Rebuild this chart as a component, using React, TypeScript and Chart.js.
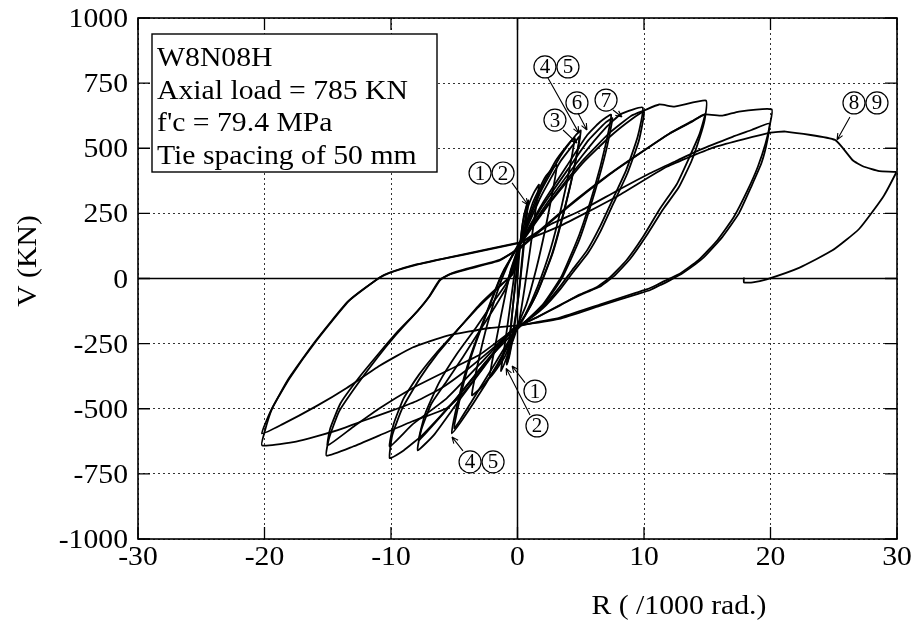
import React, { useEffect, useRef } from "react";
import { Chart, registerables } from "chart.js";

Chart.register(...registerables);

type Pt = [number, number];

// ---- axes & text ----
const xTickValues = [-30, -20, -10, 0, 10, 20, 30];
const yTickValues = [-1000, -750, -500, -250, 0, 250, 500, 750, 1000];
const xTitle = "R ( /1000 rad.)";
const yTitle = "V (KN)";
const infoLines = ["W8N08H", "Axial load = 785 KN", "f'c = 79.4 MPa", "Tie spacing of 50 mm"];

// ---- hysteresis loops: [R (/1000 rad), V (kN)] ----
const cycle1: Pt[] = [[0, 0], [0.15, 100], [0.4, 210], [0.8, 290], [0.62, 200], [0.35, 70], [0.1, -60], [-0.3, -190], [-0.6, -280], [-0.8, -320], [-0.6, -230], [-0.35, -100], [-0.05, 40], [0.2, 130]];
const cycle2: Pt[] = [[0.2, 130], [0.5, 240], [0.85, 300], [0.65, 200], [0.35, 50], [0.05, -80], [-0.35, -220], [-0.65, -300], [-0.85, -330], [-0.65, -240], [-0.35, -100], [0, 50], [0.25, 140]];
const cycle3: Pt[] = [[0.25, 140], [0.8, 270], [1.3, 330], [1.7, 360], [1.45, 270], [1.05, 130], [0.55, -40], [0.1, -170], [-0.6, -270], [-1.3, -355], [-1.05, -270], [-0.65, -130], [-0.2, 30], [0.25, 140]];
const cycle4: Pt[] = [[0.25, 140], [1.2, 290], [2.2, 390], [3.1, 436], [2.8, 340], [2.2, 190], [1.5, 40], [0.7, -100], [0, -180], [-1.0, -300], [-2.2, -382], [-1.85, -280], [-1.25, -130], [-0.55, 30], [0.25, 145]];
const cycle5: Pt[] = [[0.25, 145], [1.5, 310], [3.0, 450], [4.0, 515], [4.5, 540], [4.15, 430], [3.5, 280], [2.6, 110], [1.6, -30], [0.6, -140], [0, -185], [-1.4, -320], [-2.7, -410], [-3.6, -448], [-3.15, -330], [-2.35, -170], [-1.3, -10], [-0.3, 100], [0.25, 145]];
const cycle6: Pt[] = [[0.25, 145], [1.8, 330], [3.4, 470], [4.6, 550], [5.0, 568], [4.55, 440], [3.8, 280], [2.8, 100], [1.6, -50], [0.5, -150], [0, -185], [-1.6, -330], [-3.5, -480], [-5.2, -595], [-4.65, -460], [-3.8, -310], [-2.6, -150], [-1.3, 10], [0.25, 140]];
const cycle7: Pt[] = [[0.25, 140], [1.8, 310], [3.4, 450], [4.5, 520], [4.9, 545], [4.45, 420], [3.7, 265], [2.7, 90], [1.5, -60], [0.4, -160], [0, -185], [-1.7, -320], [-3.6, -470], [-5.0, -575], [-4.45, -440], [-3.6, -290], [-2.4, -130], [-1.1, 30], [0.25, 140]];
const cycle8: Pt[] = [[0.25, 140], [2, 290], [4, 440], [5.5, 550], [6.5, 600], [7.4, 629], [6.95, 510], [6.1, 350], [4.9, 170], [3.5, 10], [2.0, -100], [0.5, -170], [-0.5, -200], [-2.5, -330], [-4.8, -480], [-6.6, -600], [-7.9, -660], [-7.6, -580], [-6.8, -480], [-5.6, -394], [-4.3, -300], [-3.0, -201], [-1.8, -110], [-0.9, -35], [-0.1, 81], [0.25, 140]];
const cycle9: Pt[] = [[0.25, 140], [2, 280], [4, 420], [5.6, 530], [7.0, 600], [7.5, 615], [7.0, 490], [6.1, 330], [4.9, 150], [3.5, 0], [2.0, -105], [0.3, -180], [-2.5, -320], [-5, -470], [-7, -580], [-7.8, -620], [-7.3, -520], [-6.2, -400], [-4.8, -290], [-3.3, -190], [-1.9, -90], [-0.9, -20], [-0.1, 90], [0.25, 140]];
const cycle10: Pt[] = [[0.25, 140], [2.5, 300], [5.1, 470], [7.0, 580], [8.2, 632], [9.9, 656], [9.5, 544], [8.6, 417], [7.5, 301], [6.5, 197], [5.5, 108], [4.3, 31], [3.3, -35], [2.0, -110], [0.5, -170], [-0.5, -200], [-2.5, -320], [-5.0, -470], [-7.5, -600], [-9.0, -660], [-10.1, -690], [-9.9, -602], [-9.1, -498], [-7.7, -382], [-6.4, -293], [-4.8, -201], [-3.0, -100], [-1.6, -35], [-0.4, 15], [0.2, 130]];
const cycle11: Pt[] = [[0.2, 130], [2.5, 286], [5.1, 440], [7.3, 544], [9.1, 614], [10.0, 640], [9.6, 530], [8.7, 405], [7.6, 290], [6.6, 185], [5.6, 100], [4.4, 25], [3.4, -40], [2.0, -115], [0.4, -175], [-0.5, -200], [-3.0, -330], [-5.6, -460], [-8.3, -560], [-10.1, -645], [-9.8, -560], [-9.0, -460], [-7.8, -370], [-6.4, -285], [-4.8, -200], [-3.0, -105], [-1.5, -35], [-0.4, 20], [0.2, 135]];
const cycle12: Pt[] = [[0.2, 135], [2.5, 290], [5.1, 450], [7.3, 560], [9.0, 625], [10.0, 645], [11.2, 668], [12.4, 660], [14.9, 683], [14.8, 610], [14.4, 540], [13.75, 450], [12.75, 350], [11.5, 265], [10.2, 165], [8.9, 75], [7.6, 8], [6.5, -32], [5.2, -58], [3.5, -98], [1.5, -150], [0, -185], [-1.5, -260], [-3.0, -360], [-4.3, -440], [-5.6, -498], [-8.3, -548], [-10.9, -602], [-13.0, -645], [-15.1, -680], [-14.9, -614], [-14.1, -510], [-12.7, -409], [-11.1, -305], [-9.6, -216], [-8.0, -130], [-7.0, -70], [-6.2, -8], [-5.4, 15], [-4.0, 35], [-1.4, 69], [0.2, 120]];
const cycle13: Pt[] = [[0.2, 120], [3.9, 274], [7.3, 402], [9.6, 479], [12.0, 556], [13.8, 602], [14.8, 630], [14.4, 556], [13.6, 467], [12.6, 363], [11.2, 263], [9.9, 158], [8.6, 69], [7.3, 4], [6.2, -35], [4.9, -62], [3.3, -105], [1.5, -150], [0, -185], [-3.0, -293], [-5.6, -355], [-8.3, -421], [-10.9, -498], [-13.0, -570], [-15.0, -640], [-14.8, -575], [-14.0, -480], [-12.6, -385], [-11.0, -290], [-9.5, -205], [-7.9, -125], [-6.9, -65], [-6.1, -5], [-5.3, 18], [-4.0, 38], [-1.4, 72], [0.2, 115]];
const cycle14: Pt[] = [[0.2, 115], [3.9, 270], [7.3, 400], [9.6, 478], [12.0, 556], [13.8, 604], [14.8, 630], [16.2, 625], [17.5, 641], [20.1, 649], [19.95, 590], [19.6, 517], [19.0, 429], [18.2, 340], [17.1, 236], [15.8, 147], [14.3, 70], [12.7, 15], [11.6, -10], [11.0, -25], [10.2, -42], [9.4, -54], [6.5, -100], [3.3, -151], [0, -185], [-2, -270], [-4, -350], [-6, -420], [-8, -471], [-10.1, -510], [-12.3, -548], [-13.8, -575], [-15.9, -606], [-17.5, -626], [-20.2, -641], [-20.0, -590], [-19.4, -500], [-18.1, -385], [-16.0, -242], [-13.4, -88], [-11.0, 0], [-10.2, 20], [-8.0, 52], [-5.4, 80], [-2.8, 106], [0.2, 137]];
const cycle15: Pt[] = [[0.2, 137], [2.5, 205], [5.1, 263], [7.8, 335], [10.4, 402], [12.5, 450], [14.4, 494], [17.0, 544], [18.5, 570], [19.9, 595], [19.75, 530], [19.3, 445], [18.5, 355], [17.5, 250], [16.2, 160], [14.7, 80], [13.1, 22], [12.0, -8], [11.3, -25], [10.5, -44], [9.6, -58], [6.5, -105], [3.3, -155], [0, -180], [-2.2, -190], [-5.6, -220], [-8.3, -265], [-10.9, -335], [-13.5, -420], [-15.9, -490], [-18.6, -560], [-20.2, -595], [-19.4, -498], [-18.0, -382], [-15.9, -239], [-13.3, -85], [-10.9, 4], [-10.1, 23], [-8.0, 54], [-5.4, 81], [-2.8, 108], [0.2, 139]];
const finalRun: Pt[] = [[0.2, 139], [3.3, 200], [7.8, 313], [11.8, 429], [15.7, 506], [20.0, 560], [21.2, 564], [25.1, 532], [26.5, 454], [27.3, 431], [28.6, 412], [29.9, 409], [29.9, 403], [28.9, 313], [27.0, 190], [24.9, 108], [22.3, 42], [19.7, -3], [18.6, -15], [17.9, -15], [17.9, 4]];

const loops: Pt[][] = [cycle1, cycle2, cycle3, cycle4, cycle5, cycle6, cycle7, cycle8, cycle9, cycle10, cycle11, cycle12, cycle13, cycle14, cycle15, finalRun];

// ---- cycle number call-outs (data coordinates) ----
interface Note { nums: string[]; at: Pt; tail: Pt; tip: Pt }
const notes: Note[] = [
  { nums: ["1", "2"], at: [-2.96, 405], tail: [-0.43, 367], tip: [0.83, 282] },
  { nums: ["3"], at: [2.96, 608], tail: [3.6, 570], tip: [4.7, 520] },
  { nums: ["4", "5"], at: [2.17, 812], tail: [2.41, 770], tip: [4.86, 558] },
  { nums: ["6"], at: [4.7, 674], tail: [4.78, 635], tip: [5.49, 570] },
  { nums: ["7"], at: [7.0, 685], tail: [7.55, 647], tip: [8.26, 620] },
  { nums: ["8", "9"], at: [26.6, 674], tail: [26.28, 620], tip: [25.26, 532] },
  { nums: ["1"], at: [1.38, -432], tail: [0.59, -400], tip: [-0.43, -336] },
  { nums: ["2"], at: [1.54, -566], tail: [0.99, -524], tip: [-0.9, -345] },
  { nums: ["4", "5"], at: [-3.75, -704], tail: [-4.31, -662], tip: [-5.18, -608] },
];

const SERIF = '"Liberation Serif", "Times New Roman", Times, serif';
const SX = 1.1;

function stretchedText(ctx: CanvasRenderingContext2D, text: string, x: number, y: number, size: number, align: "left" | "right" | "center") {
  ctx.save();
  ctx.font = `${size}px ${SERIF}`;
  ctx.textAlign = "left";
  const w = ctx.measureText(text).width * SX;
  let left = x;
  if (align === "right") left = x - w;
  else if (align === "center") left = x - w / 2;
  ctx.translate(left, y);
  ctx.scale(SX, 1);
  ctx.fillText(text, 0, 0);
  ctx.restore();
}

const decorPlugin = {
  id: "decor",
  beforeDatasetsDraw(chart: any) {
    const { ctx, chartArea: a, scales } = chart;
    const zx = scales.x.getPixelForValue(0);
    const zy = scales.y.getPixelForValue(0);
    ctx.save();
    ctx.strokeStyle = "#000";
    ctx.lineWidth = 1.5;
    ctx.setLineDash([]);
    ctx.beginPath();
    ctx.moveTo(zx, a.top);
    ctx.lineTo(zx, a.bottom);
    ctx.moveTo(a.left, zy);
    ctx.lineTo(a.right, zy);
    ctx.stroke();
    ctx.restore();
  },
  afterDatasetsDraw(chart: any) {
    const { ctx, chartArea: a, scales } = chart;
    const xs = scales.x;
    const ys = scales.y;
    ctx.save();
    ctx.setLineDash([]);
    ctx.strokeStyle = "#000";
    ctx.fillStyle = "#000";
    // frame
    ctx.lineWidth = 1.6;
    ctx.strokeRect(a.left, a.top, a.right - a.left, a.bottom - a.top);
    // inward ticks
    const TL = 12;
    ctx.lineWidth = 1.3;
    ctx.beginPath();
    xTickValues.forEach((v) => {
      const px = xs.getPixelForValue(v);
      ctx.moveTo(px, a.bottom);
      ctx.lineTo(px, a.bottom - TL);
      ctx.moveTo(px, a.top);
      ctx.lineTo(px, a.top + TL);
    });
    yTickValues.forEach((v) => {
      const py = ys.getPixelForValue(v);
      ctx.moveTo(a.left, py);
      ctx.lineTo(a.left + TL, py);
      ctx.moveTo(a.right, py);
      ctx.lineTo(a.right - TL, py);
    });
    ctx.stroke();
    // tick labels
    ctx.textBaseline = "alphabetic";
    yTickValues.forEach((v) => stretchedText(ctx, String(v), a.left - 10, ys.getPixelForValue(v) + 9, 27, "right"));
    xTickValues.forEach((v) => stretchedText(ctx, String(v), xs.getPixelForValue(v), a.bottom + 26, 27, "center"));
    // axis titles
    stretchedText(ctx, xTitle, 679, a.bottom + 75, 27, "center");
    ctx.save();
    ctx.translate(36, 261);
    ctx.rotate(-Math.PI / 2);
    stretchedText(ctx, yTitle, 0, 0, 27, "center");
    ctx.restore();
    // info box
    const bx = a.left + 14;
    const by = a.top + 16;
    const bw = 285;
    const bh = 138;
    ctx.fillStyle = "#fff";
    ctx.fillRect(bx, by, bw, bh);
    ctx.lineWidth = 1.4;
    ctx.strokeRect(bx, by, bw, bh);
    ctx.fillStyle = "#000";
    infoLines.forEach((t, i) => stretchedText(ctx, t, bx + 5, by + 32 + i * 32.7, 27, "left"));
    // call-outs
    const R = 11;
    notes.forEach((n) => {
      const cx = xs.getPixelForValue(n.at[0]);
      const cy = ys.getPixelForValue(n.at[1]);
      n.nums.forEach((s, k) => {
        const x = cx + k * 23;
        ctx.beginPath();
        ctx.lineWidth = 1.2;
        ctx.arc(x, cy, R, 0, Math.PI * 2);
        ctx.stroke();
        ctx.font = `21px ${SERIF}`;
        ctx.textAlign = "center";
        ctx.textBaseline = "middle";
        ctx.fillText(s, x, cy + 1);
      });
      const tx = xs.getPixelForValue(n.tail[0]);
      const ty = ys.getPixelForValue(n.tail[1]);
      const hx = xs.getPixelForValue(n.tip[0]);
      const hy = ys.getPixelForValue(n.tip[1]);
      ctx.lineWidth = 1.1;
      ctx.beginPath();
      ctx.moveTo(tx, ty);
      ctx.lineTo(hx, hy);
      const ang = Math.atan2(hy - ty, hx - tx);
      const L = 7;
      ctx.moveTo(hx, hy);
      ctx.lineTo(hx - L * Math.cos(ang - 0.4), hy - L * Math.sin(ang - 0.4));
      ctx.moveTo(hx, hy);
      ctx.lineTo(hx - L * Math.cos(ang + 0.4), hy - L * Math.sin(ang + 0.4));
      ctx.stroke();
    });
    ctx.restore();
  },
};

const gridOpts = {
  drawTicks: false,
  color: "#333",
  lineWidth: 1,
};
const borderOpts = { display: false, dash: [2, 3] };

export default function App() {
  const ref = useRef<HTMLCanvasElement>(null);
  useEffect(() => {
    const canvas = ref.current;
    if (!canvas) return;
    const chart = new Chart(canvas, {
      type: "scatter",
      data: {
        datasets: loops.map((loop, i) => ({
          label: `cycle ${i + 1}`,
          data: loop.map(([x, y]) => ({ x, y })),
          showLine: true,
          borderColor: "#000",
          borderWidth: 1.8,
          pointRadius: 0,
          pointHoverRadius: 0,
          tension: 0.15,
          fill: false,
        })),
      },
      options: {
        responsive: false,
        animation: false,
        devicePixelRatio: 1,
        layout: { padding: { left: 0, right: 17, top: 18, bottom: 0 } },
        plugins: { legend: { display: false }, tooltip: { enabled: false } },
        scales: {
          x: {
            type: "linear",
            min: -30,
            max: 30,
            afterBuildTicks: (s: any) => {
              s.ticks = xTickValues.map((value) => ({ value }));
            },
            afterFit: (s: any) => {
              s.height = 90;
            },
            ticks: { display: false },
            grid: gridOpts,
            border: borderOpts,
          },
          y: {
            type: "linear",
            min: -1000,
            max: 1000,
            afterBuildTicks: (s: any) => {
              s.ticks = yTickValues.map((value) => ({ value }));
            },
            afterFit: (s: any) => {
              s.width = 138;
            },
            ticks: { display: false },
            grid: gridOpts,
            border: borderOpts,
          },
        },
      } as any,
      plugins: [decorPlugin],
    });
    return () => chart.destroy();
  }, []);
  return (
    <div style={{ position: "absolute", left: 0, top: 0, width: 914, height: 629, background: "#fff" }}>
      <canvas ref={ref} width={914} height={629} style={{ display: "block" }} />
    </div>
  );
}
